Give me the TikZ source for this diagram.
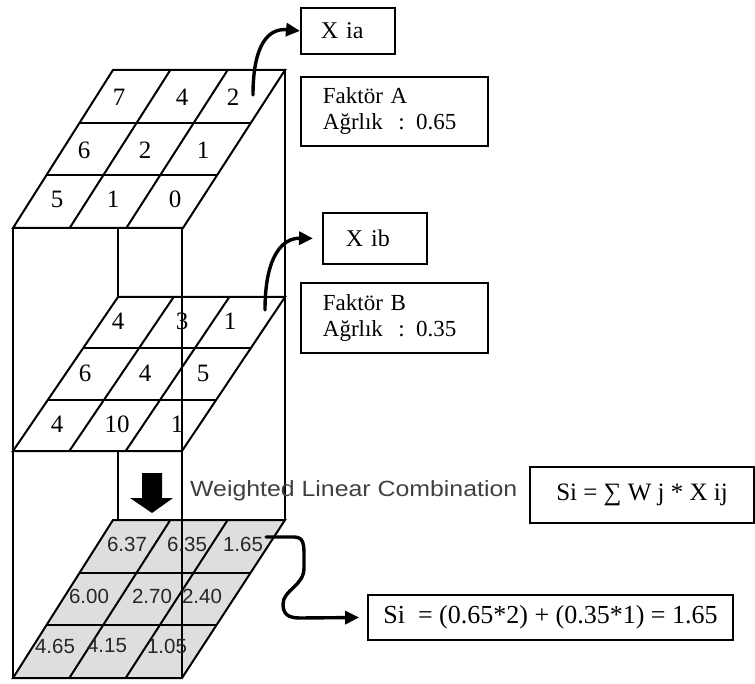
\documentclass[tikz,border=0pt]{standalone}
\usepackage{fontspec}
\setmainfont{Liberation Serif}
\setsansfont{Liberation Sans}
\usetikzlibrary{calc,arrows.meta}
\begin{document}
\begin{tikzpicture}[x=1pt,y=-1pt,
  grid/.style={line width=2pt, line join=miter},
  num/.style={font=\fontsize{25}{28}\selectfont, inner sep=0pt},
  snum/.style={font=\sffamily\fontsize{20.5}{22}\selectfont, inner sep=0pt, text=black!85},
  infobox/.style={draw, line width=1.8pt, anchor=north west, align=left, inner ysep=0pt},
  formbox/.style={draw, line width=1.8pt, inner sep=0pt},
  curvearrow/.style={line width=3.4pt, line cap=round, -{Triangle[length=14pt,width=13pt]}},
]
\useasboundingbox (0,0) rectangle (755,684);
% layer corners
\coordinate (aTL) at (113,70);  \coordinate (aTR) at (285,70);
\coordinate (aBL) at (13,228);  \coordinate (aBR) at (183,228);
\coordinate (bTL) at (118,297); \coordinate (bTR) at (285,297);
\coordinate (bBL) at (13,451);  \coordinate (bBR) at (182,451);
\coordinate (cTL) at (113,520); \coordinate (cTR) at (285,520);
\coordinate (cBL) at (13,678);  \coordinate (cBR) at (182,678);
% gray result layer
\fill[black!13] (cTL) -- (cTR) -- (cBR) -- (cBL) -- cycle;
% box edges
\draw[grid] (13,228) -- (13,678);
\draw[grid] (182,228) -- (182,678);
\draw[grid] (285,70) -- (285,520);
\draw[grid] (118,228) -- (118,297);
\draw[grid] (118,451) -- (118,520);
% layers
\foreach \ly in {a,b,c}{
  \draw[grid] (\ly TL) -- (\ly TR) -- (\ly BR) -- (\ly BL) -- cycle;
  \foreach \fr in {1/3,2/3}{
    \draw[grid] ($(\ly TL)!\fr!(\ly BL)$) -- ($(\ly TR)!\fr!(\ly BR)$);
    \draw[grid] ($(\ly TL)!\fr!(\ly TR)$) -- ($(\ly BL)!\fr!(\ly BR)$);
  }
}
% top layer numbers
\node[num] (a11) at (119,97) {7};
\node[num] (a12) at (182,97) {4};
\node[num] (a13) at (233,97) {2};
\node[num] (a21) at (84,150) {6};
\node[num] (a22) at (145,150) {2};
\node[num] (a23) at (203,150) {1};
\node[num] (a31) at (57,199) {5};
\node[num] (a32) at (113,199) {1};
\node[num] (a33) at (175,199) {0};
% middle layer numbers
\node[num] (b11) at (118,321) {4};
\node[num] (b12) at (182,321) {3};
\node[num] (b13) at (230,321) {1};
\node[num] (b21) at (85,373) {6};
\node[num] (b22) at (145,373) {4};
\node[num] (b23) at (203,373) {5};
\node[num] (b31) at (57,424) {4};
\node[num] (b32) at (117,424) {10};
\node[num] (b33) at (177,424) {1};
% result layer numbers
\node[snum] (c11) at (127,544) {6.37};
\node[snum] (c12) at (187,544) {6.35};
\node[snum] (c13) at (243,544) {1.65};
\node[snum] (c21) at (89,596) {6.00};
\node[snum] (c22) at (152,596) {2.70};
\node[snum] (c23) at (202,596) {2.40};
\node[snum] (c31) at (55,646) {4.65};
\node[snum] (c32) at (107,646) {4.15};
\node[snum] (c33) at (167,646) {1.05};
% block arrow
\fill (142,473) -- (162,473) -- (162,498) -- (173,498) -- (152,513) -- (130,498) -- (142,498) -- cycle;
\node[anchor=base west, font=\sffamily\fontsize{22}{26}\selectfont, text=black!75, inner sep=0pt] (wlc) at (190,496) {\scalebox{1.13}[1]{Weighted Linear Combination}};
% info boxes
\node[infobox, font=\fontsize{24}{27}\selectfont, minimum height=46pt, text width=54pt, inner xsep=20pt] (xia) at (300,7) {X ia};
\node[infobox, font=\fontsize{23}{26}\selectfont, minimum height=69pt, text width=143pt, inner xsep=22pt] (fa) at (300,76) {Faktör A\\Ağrlık\ \ : 0.65};
\node[infobox, font=\fontsize{24}{27}\selectfont, minimum height=51pt, text width=58pt, inner xsep=23pt] (xib) at (322,212) {X ib};
\node[infobox, font=\fontsize{23}{26}\selectfont, minimum height=70pt, text width=143pt, inner xsep=22pt] (fb) at (300,282) {Faktör B\\Ağrlık\ \ : 0.35};
% formula boxes
\node[formbox, minimum width=224pt, minimum height=56pt, font=\fontsize{25}{30}\selectfont] (si1) at (642,495) {Si = ∑ W j * X ij};
\node[formbox, minimum width=365pt, minimum height=45pt, font=\fontsize{26}{30}\selectfont] (si2) at (550.5,617.5) {Si\ \ = (0.65*2) + (0.35*1) = 1.65};
% curved arrows
\coordinate (s1) at (253,95);
\coordinate (s2) at (265,310);
\coordinate (s3) at (266,537);
\draw[curvearrow] (s1) .. controls (253,45) and (268,28) .. (xia.west);
\draw[curvearrow] (s2) .. controls (265,255) and (283,238) .. ([xshift=-9pt]xib.west);
\draw[curvearrow] (s3) -- (294,537) .. controls (304,537) and (304,545) .. (304,556) -- (304,568) .. controls (304,586) and (283,590) .. (283,604) .. controls (283,614) and (288,618) .. (300,618) -- ([xshift=-8pt]si2.west);
\end{tikzpicture}
\end{document}
